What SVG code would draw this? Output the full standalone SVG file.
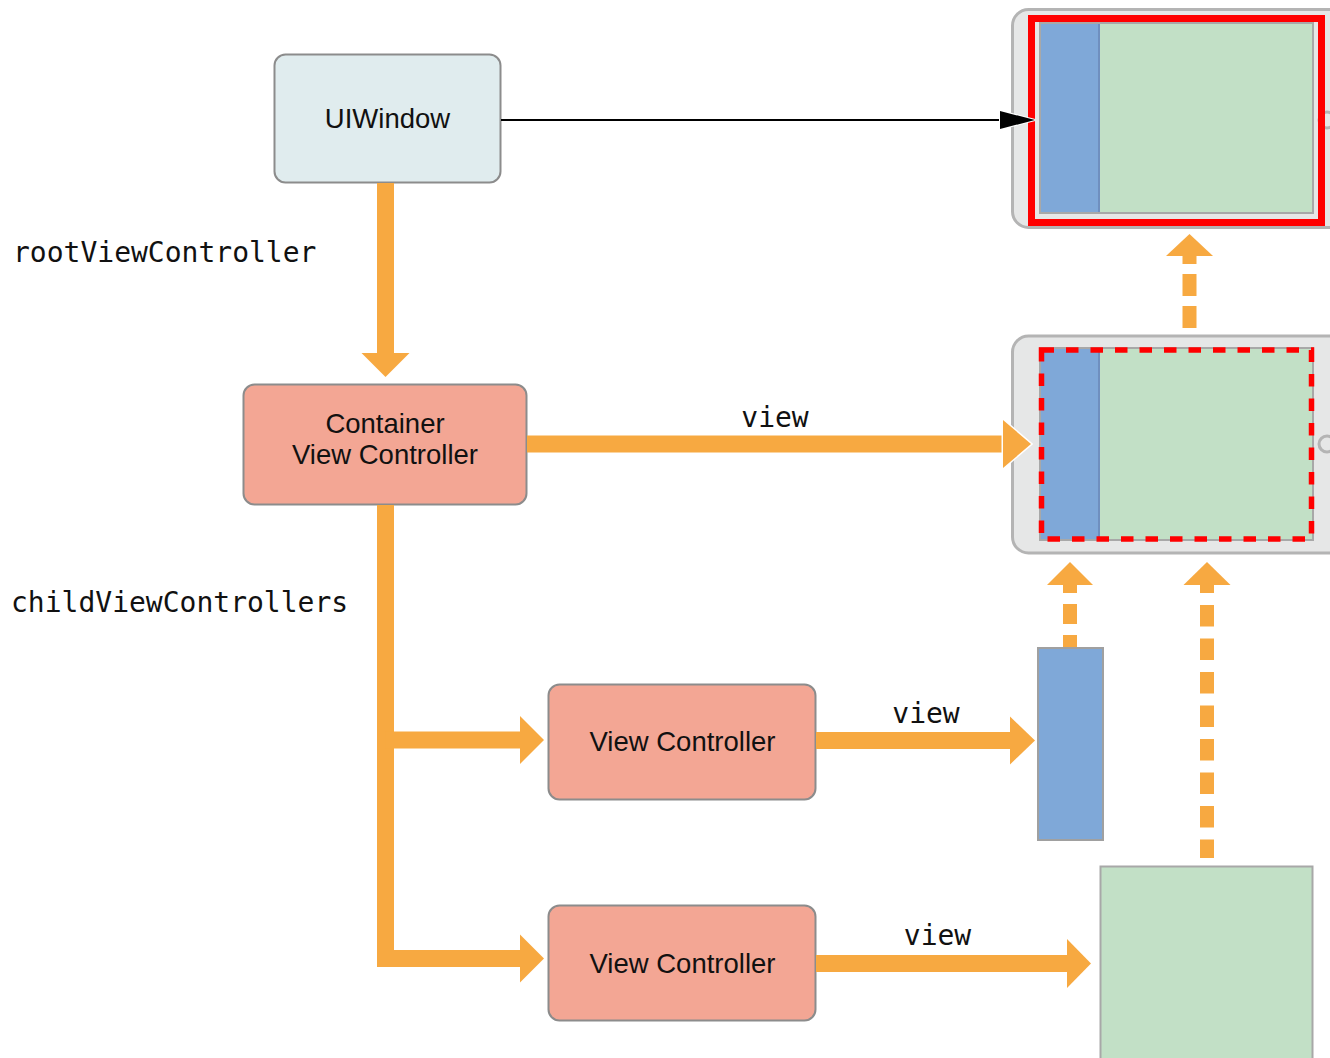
<svg xmlns="http://www.w3.org/2000/svg" width="1330" height="1058" viewBox="0 0 1330 1058">
<style>
.box{stroke:#8C8C8C;stroke-width:2}
.vc{fill:#F3A694}
.win{fill:#E0ECEE}
.sans{font-family:"Liberation Sans",Arial,sans-serif;font-size:27.5px;fill:#111;text-anchor:middle}
.mono{font-family:"DejaVu Sans Mono","Liberation Mono",monospace;font-size:28px;fill:#111}
.device{fill:#E6E7E7;stroke:#B4B4B4;stroke-width:3}
.screen{stroke:#A8A8A8;stroke-width:2}
.blue{fill:#7FA8D8}
.green{fill:#C2E0C6}
.shaft{fill:none;stroke:#F7A941;stroke-width:17}
.dash{fill:none;stroke:#F7A941;stroke-width:14}
.head{fill:#F7A941}
.headw{fill:#F7A941;stroke:#fff;stroke-width:3;paint-order:stroke}
</style>
<rect width="1330" height="1058" fill="#fff"/>

<g id="device-window">
<rect class="device" x="1012.5" y="9.5" width="340" height="218" rx="16"/>
<circle class="device" cx="1327" cy="120" r="8"/>
<rect class="screen green" x="1040" y="23" width="273" height="190"/>
<rect class="blue" x="1041" y="24" width="58" height="188"/>
<line x1="1099" y1="24" x2="1099" y2="212" stroke="#6F8FBF" stroke-width="2"/>
<rect x="1031.5" y="18.5" width="290" height="204" fill="none" stroke="#FF0000" stroke-width="7"/>
</g>

<g id="device-container">
<rect class="device" x="1012.5" y="336" width="340" height="217" rx="16"/>
<circle class="device" cx="1327" cy="444" r="8"/>
<rect class="screen green" x="1040" y="348" width="273" height="192"/>
<rect class="blue" x="1041" y="349" width="58" height="190"/>
<line x1="1099" y1="349" x2="1099" y2="539" stroke="#6F8FBF" stroke-width="2"/>
<rect x="1041.5" y="350" width="270" height="189" fill="none" stroke="#FF0000" stroke-width="5.5" stroke-dasharray="12.5 12"/>
</g>

<g id="uiwindow">
<rect class="box win" x="274.5" y="54.5" width="226" height="128" rx="11"/>
<text class="sans" x="387.5" y="128">UIWindow</text>
</g>

<g id="container-vc">
<rect class="box vc" x="243.5" y="384.5" width="283" height="120" rx="11"/>
<text class="sans" x="385" y="433">Container</text>
<text class="sans" x="385" y="464">View Controller</text>
</g>

<g id="vc1">
<rect class="box vc" x="548.5" y="684.5" width="267" height="115" rx="11"/>
<text class="sans" x="682.5" y="751">View Controller</text>
</g>

<g id="vc2">
<rect class="box vc" x="548.5" y="905.5" width="267" height="115" rx="11"/>
<text class="sans" x="682.5" y="973">View Controller</text>
</g>

<g id="blue-view">
<rect x="1038" y="648" width="65" height="192" fill="#7FA8D8" stroke="#A0A0A0" stroke-width="2"/>
</g>

<g id="green-view">
<rect x="1100.5" y="866.5" width="212" height="200" fill="#C2E0C6" stroke="#A8A8A8" stroke-width="2"/>
</g>

<g id="connectors">
<line x1="501" y1="120" x2="1004" y2="120" stroke="#000" stroke-width="2"/>
<polygon points="1000,111 1035,120 1000,129" fill="#000" stroke="#fff" stroke-width="2" paint-order="stroke"/>

<line class="shaft" x1="385.5" y1="183" x2="385.5" y2="355"/>
<polygon class="head" points="361.5,353 409.5,353 385.5,377"/>

<line class="shaft" x1="527" y1="444" x2="1005" y2="444"/>
<polygon class="headw" points="1003,420 1031,444 1003,468"/>

<path class="shaft" d="M385.5 505 L385.5 958.5 L522 958.5" stroke-linejoin="miter"/>
<line class="shaft" x1="385.5" y1="740" x2="522" y2="740"/>
<polygon class="head" points="520,716 544,740 520,764"/>
<polygon class="head" points="520,934.5 544,958.5 520,982.5"/>

<line class="shaft" x1="816" y1="740.5" x2="1012" y2="740.5"/>
<polygon class="head" points="1010,716.5 1035,740.5 1010,764.5"/>

<line class="shaft" x1="816" y1="963.5" x2="1069" y2="963.5"/>
<polygon class="head" points="1067,939 1091,963.5 1067,988"/>

<line class="dash" x1="1070" y1="585" x2="1070" y2="647" stroke-dasharray="20 11" stroke-dashoffset="12"/>
<polygon class="head" points="1070,562 1093,585 1047,585"/>

<line class="dash" x1="1207" y1="585" x2="1207" y2="858" stroke-dasharray="21.5 12" stroke-dashoffset="13.5"/>
<polygon class="head" points="1207,562 1230.5,585 1183.5,585"/>

<line class="dash" x1="1189.5" y1="256" x2="1189.5" y2="328" stroke-dasharray="22 10" stroke-dashoffset="14"/>
<polygon class="head" points="1189.5,234 1213,256 1166,256"/>
</g>

<g id="labels">
<text class="mono" x="13" y="262">rootViewController</text>
<text class="mono" x="11" y="612">childViewControllers</text>
<text class="mono" x="775" y="427" text-anchor="middle">view</text>
<text class="mono" x="926" y="723" text-anchor="middle">view</text>
<text class="mono" x="937.5" y="945" text-anchor="middle">view</text>
</g>
</svg>
